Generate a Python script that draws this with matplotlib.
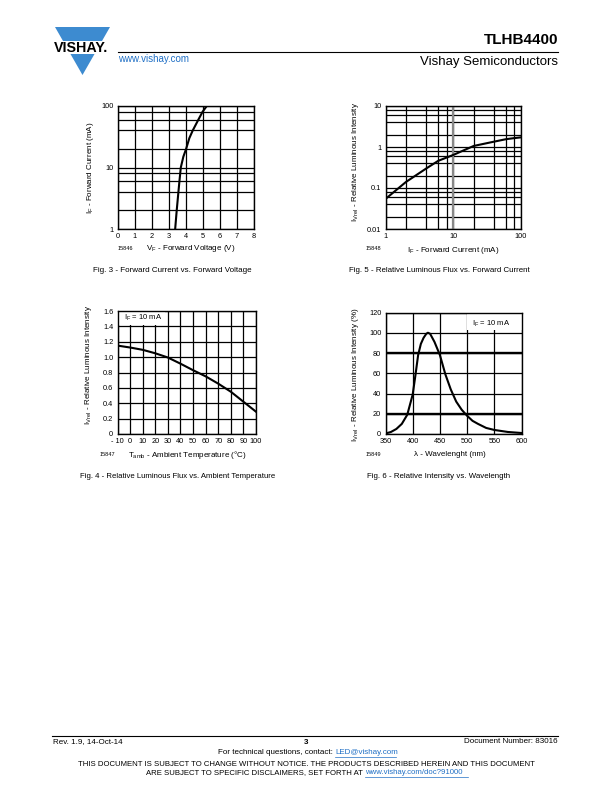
import matplotlib
matplotlib.use("Agg")
import matplotlib.pyplot as plt
from matplotlib.patches import Polygon, Rectangle
from matplotlib.lines import Line2D
from matplotlib.ticker import FixedLocator, NullFormatter

plt.rcParams['font.family'] = ['Liberation Sans', 'DejaVu Sans']
plt.rcParams['mathtext.fontset'] = 'custom'
plt.rcParams['mathtext.rm'] = 'Liberation Sans'
plt.rcParams['mathtext.it'] = 'Liberation Sans'

# Fig. 3 - forward current vs forward voltage
fig3_vf = [3.38, 3.47, 3.57, 3.63, 3.71, 3.86, 4.02, 4.21, 4.41, 4.74, 4.98, 5.23]
fig3_if = [1, 2, 4, 6, 10, 15, 20, 30, 40, 60, 80, 100]

# Fig. 5 - relative luminous flux vs forward current
fig5_if = [1, 2, 4, 6, 10, 20, 40, 60, 80, 100]
fig5_iv = [0.054, 0.14, 0.30, 0.46, 0.64, 1.06, 1.35, 1.55, 1.65, 1.72]

# Fig. 4 - relative luminous flux vs ambient temperature
fig4_t = [-10, 0, 10, 20, 30, 40, 50, 60, 70, 80, 90, 100]
fig4_iv = [1.15, 1.125, 1.095, 1.05, 0.995, 0.915, 0.83, 0.75, 0.655, 0.55, 0.42, 0.29]

# Fig. 6 - relative intensity vs wavelength
fig6_wl = [350, 360, 370, 380, 390, 400, 405, 410, 415, 420, 425, 428, 432, 440,
           450, 460, 470, 480, 490, 500, 510, 520, 535, 550, 575, 600]
fig6_rel = [0.5, 2, 5, 10, 19, 39, 58, 78, 89, 95, 99, 100, 99, 91,
            78, 59, 44, 32, 24, 18, 13, 10, 6, 4, 2, 1]

W, H = 612, 792
fig = plt.figure(figsize=(6.12, 7.92), dpi=100)
BLUE = '#3d8bd0'
LINK = '#1f6fc5'


def box(l, t, r, b):
    return [l / W, 1 - b / H, (r - l) / W, (b - t) / H]


def ftext(x, y, s, **kw):
    kw.setdefault('va', 'center')
    return fig.text(x / W, 1 - y / H, s, **kw)


def hline(x0, x1, y, lw=0.8, color='black'):
    fig.add_artist(Line2D([x0 / W, x1 / W], [1 - y / H, 1 - y / H], lw=lw, color=color))


def style(ax):
    for s in ax.spines.values():
        s.set_linewidth(1.0)
    ax.tick_params(which='both', length=0, labelsize=5.3, pad=3)
    ax.grid(True, which='both', color='black', lw=0.9)
    ax.set_axisbelow(True)


def label_box(ax, x0, y0, x1, y1):
    # white patch behind the in-plot condition label (axes fraction)
    ax.add_patch(Rectangle((x0, y0), x1 - x0, y1 - y0, transform=ax.transAxes,
                           facecolor='white', edgecolor='none', zorder=2.1))


# header
tri = Polygon([[55 / W, 1 - 27 / H], [110 / W, 1 - 27 / H], [82.5 / W, 1 - 75 / H]],
              closed=True, facecolor=BLUE, edgecolor='none', transform=fig.transFigure)
fig.add_artist(tri)
fig.add_artist(Rectangle((50 / W, 1 - 54 / H), 64 / W, 13 / H, facecolor='white',
                         edgecolor='none', transform=fig.transFigure))
ftext(81.5, 47.5, 'VISHAY.', ha='center', fontsize=10.3, fontweight='bold')
ftext(558, 40, 'TLHB4400', ha='right', fontsize=11, fontweight='bold')
hline(118, 558, 52)
ftext(118, 58.5, 'www.vishay.com', ha='left', fontsize=7, color=LINK)
ftext(558, 62, 'Vishay Semiconductors', ha='right', fontsize=9.5)

# Fig. 3
ax = fig.add_axes(box(117.5, 106, 254, 229))
ax.plot(fig3_vf, fig3_if, color='black', lw=1.5)
ax.set_yscale('log')
ax.set_xlim(0, 8)
ax.set_ylim(1, 100)
ax.set_xticks(range(0, 9))
ax.yaxis.set_major_locator(FixedLocator([1, 10, 100]))
ax.set_yticklabels(['1', '10', '100'])
ax.yaxis.set_minor_locator(FixedLocator([2, 4, 6, 8, 20, 40, 60, 80]))
ax.yaxis.set_minor_formatter(NullFormatter())
style(ax)
ftext(90, 168, r'I$_{\rm F}$ - Forward Current (mA)', ha='center', rotation=90, fontsize=5.8)
ftext(191, 249, r'V$_{\rm F}$ - Forward Voltage (V)', ha='center', fontsize=5.8)
ftext(125, 249, '15846', ha='center', fontsize=4)
ftext(172, 271, 'Fig. 3 - Forward Current vs. Forward Voltage', ha='center', fontsize=5.8)

# Fig. 5
ax = fig.add_axes(box(385.5, 106, 521, 229))
ax.plot(fig5_if, fig5_iv, color='black', lw=1.5)
ax.set_xscale('log')
ax.set_yscale('log')
ax.set_xlim(1, 100)
ax.set_ylim(0.01, 10)
ax.xaxis.set_major_locator(FixedLocator([1, 10, 100]))
ax.set_xticklabels(['1', '10', '100'])
ax.xaxis.set_minor_locator(FixedLocator([2, 4, 6, 8, 20, 40, 60, 80]))
ax.xaxis.set_minor_formatter(NullFormatter())
ax.yaxis.set_major_locator(FixedLocator([0.01, 0.1, 1, 10]))
ax.set_yticklabels(['0.01', '0.1', '1', '10'])
ax.yaxis.set_minor_locator(FixedLocator([0.02, 0.04, 0.06, 0.08, 0.2, 0.4, 0.6, 0.8,
                                         2, 4, 6, 8]))
ax.yaxis.set_minor_formatter(NullFormatter())
style(ax)
ax.axvline(10, color='#888888', lw=1.6, zorder=1.5)
ftext(355, 162, r'I$_{\rm V\,rel}$ - Relative Luminous Intensity', ha='center', rotation=90, fontsize=5.8)
ftext(453, 250, r'I$_{\rm F}$ - Forward Current (mA)', ha='center', fontsize=5.8)
ftext(373, 249, '15848', ha='center', fontsize=4)
ftext(439, 271, 'Fig. 5 - Relative Luminous Flux vs. Forward Current', ha='center', fontsize=5.7)

# Fig. 4
ax = fig.add_axes(box(117.5, 311, 256, 434))
ax.plot(fig4_t, fig4_iv, color='black', lw=1.5)
ax.set_xlim(-10, 100)
ax.set_ylim(0, 1.6)
ax.set_xticks(range(-10, 101, 10))
ax.set_xticklabels(['- 10'] + [str(v) for v in range(0, 101, 10)])
yt = [0, 0.2, 0.4, 0.6, 0.8, 1.0, 1.2, 1.4, 1.6]
ax.set_yticks(yt)
ax.set_yticklabels(['0'] + ['%.1f' % v for v in yt[1:]])
style(ax)
label_box(ax, 0.0, 0.885, 0.34, 1.0)
ax.text(0.05, 0.94, r'I$_{\rm F}$ = 10 mA', transform=ax.transAxes, fontsize=5.5,
        va='center', ha='left', zorder=2.2)
ftext(88, 365, r'I$_{\rm V\,rel}$ - Relative Luminous Intensity', ha='center', rotation=90, fontsize=5.8)
ftext(187, 455, r'T$_{\rm amb}$ - Ambient Temperature (°C)', ha='center', fontsize=5.8)
ftext(107, 455, '15847', ha='center', fontsize=4)
ftext(178, 476, 'Fig. 4 - Relative Luminous Flux vs. Ambient Temperature', ha='center', fontsize=5.6)

# Fig. 6
ax = fig.add_axes(box(385.5, 312.5, 521.5, 434))
ax.plot(fig6_wl, fig6_rel, color='black', lw=1.5)
ax.set_xlim(350, 600)
ax.set_ylim(0, 120)
ax.set_xticks(range(350, 601, 50))
ax.set_yticks(range(0, 121, 20))
style(ax)
for yy in (20, 80):
    ax.axhline(yy, color='black', lw=1.7, zorder=1.5)
label_box(ax, 0.6, 0.855, 1.0, 1.0)
ax.text(0.915, 0.91, r'I$_{\rm F}$ = 10 mA', transform=ax.transAxes, fontsize=5.5,
        va='center', ha='right', zorder=2.2)
ftext(355, 375, r'I$_{\rm V\,rel}$ - Relative Luminous Intensity (%)', ha='center', rotation=90, fontsize=5.8)
ftext(450, 454, 'λ - Wavelenght (nm)', ha='center', fontsize=5.8)
ftext(373, 454, '15849', ha='center', fontsize=4)
ftext(439, 476, 'Fig. 6 - Relative Intensity vs. Wavelength', ha='center', fontsize=5.7)

# footer
hline(52, 558, 735.5)
ftext(53, 741.5, 'Rev. 1.9, 14-Oct-14', ha='left', fontsize=5.8)
ftext(306, 742.5, '3', ha='center', fontsize=5.8, fontweight='bold')
ftext(558, 741.5, 'Document Number: 83016', ha='right', fontsize=5.8)
ftext(335, 752.5, 'For technical questions, contact: ', ha='right', fontsize=5.8)
ftext(335, 752.5, 'LED@vishay.com', ha='left', fontsize=5.8, color=LINK)
hline(335, 396, 756.5, lw=0.5, color=LINK)
ftext(306, 764, 'THIS DOCUMENT IS SUBJECT TO CHANGE WITHOUT NOTICE. THE PRODUCTS DESCRIBED HEREIN AND THIS DOCUMENT',
      ha='center', fontsize=5.6)
ftext(365, 772.5, 'ARE SUBJECT TO SPECIFIC DISCLAIMERS, SET FORTH AT ', ha='right', fontsize=5.6)
ftext(365, 772.5, 'www.vishay.com/doc?91000', ha='left', fontsize=5.6, color=LINK)
hline(365, 468, 776.5, lw=0.5, color=LINK)

fig.savefig('out.png', dpi=100)
